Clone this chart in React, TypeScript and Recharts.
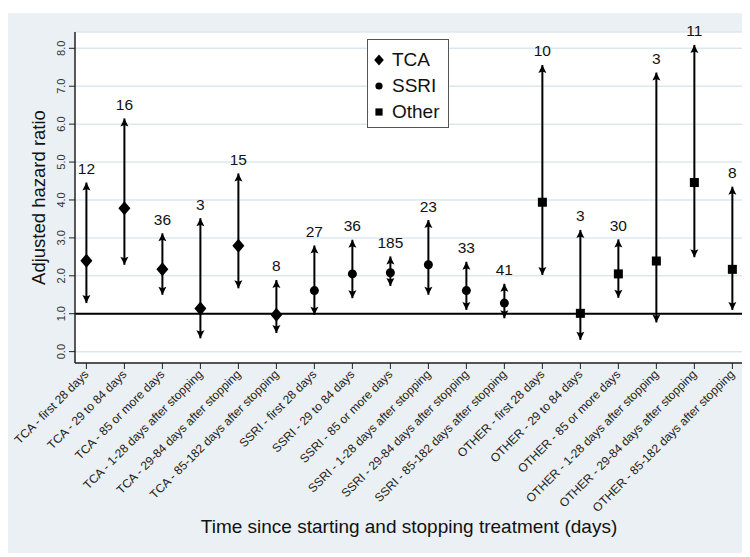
import {
  CartesianGrid,
  ErrorBar,
  LabelList,
  Legend,
  ReferenceLine,
  Scatter,
  ScatterChart,
  XAxis,
  YAxis,
} from "recharts";

const categories = [
  "TCA - first 28 days",
  "TCA - 29 to 84 days",
  "TCA - 85 or more days",
  "TCA - 1-28 days after stopping",
  "TCA - 29-84 days after stopping",
  "TCA - 85-182 days after stopping",
  "SSRI - first 28 days",
  "SSRI - 29 to 84 days",
  "SSRI - 85 or more days",
  "SSRI - 1-28 days after stopping",
  "SSRI - 29-84 days after stopping",
  "SSRI - 85-182 days after stopping",
  "OTHER - first 28 days",
  "OTHER - 29 to 84 days",
  "OTHER - 85 or more days",
  "OTHER - 1-28 days after stopping",
  "OTHER - 29-84 days after stopping",
  "OTHER - 85-182 days after stopping",
];
const drugGroup = [
  "TCA", "TCA", "TCA", "TCA", "TCA", "TCA",
  "SSRI", "SSRI", "SSRI", "SSRI", "SSRI", "SSRI",
  "Other", "Other", "Other", "Other", "Other", "Other",
];
const hazardRatio = [2.4, 3.78, 2.17, 1.14, 2.79, 0.97, 1.61, 2.05, 2.08, 2.29, 1.61, 1.28, 3.94, 1.01, 2.05, 2.39, 4.46, 2.17];
const lowerCI = [1.28, 2.29, 1.5, 0.35, 1.67, 0.49, 0.97, 1.41, 1.73, 1.5, 1.1, 0.88, 2.02, 0.31, 1.42, 0.77, 2.49, 1.1];
const upperCI = [4.46, 6.15, 3.12, 3.52, 4.7, 1.89, 2.8, 2.95, 2.51, 3.47, 2.37, 1.79, 7.56, 3.21, 2.96, 7.36, 8.09, 4.35];
const cases = [12, 16, 36, 3, 15, 8, 27, 36, 185, 23, 33, 41, 10, 3, 30, 3, 11, 8];
const yTicks = [0, 1, 2, 3, 4, 5, 6, 7, 8];
const legendItems = ["TCA", "SSRI", "Other"];

const FONT = "Arial, 'Liberation Sans', sans-serif";

const points = categories.map((c, i) => ({
  x: i,
  y: hazardRatio[i],
  group: drugGroup[i],
  err: [hazardRatio[i] - lowerCI[i], upperCI[i] - hazardRatio[i]],
}));
const tops = categories.map((c, i) => ({ x: i, y: upperCI[i], n: cases[i] }));
const bottoms = categories.map((c, i) => ({ x: i, y: lowerCI[i] }));

const markerPath = (group: string, cx: number, cy: number, s = 1) => {
  if (group === "TCA")
    return <path d={`M${cx},${cy - 7 * s} L${cx + 6 * s},${cy} L${cx},${cy + 7 * s} L${cx - 6 * s},${cy} Z`} fill="#000" />;
  if (group === "SSRI") return <circle cx={cx} cy={cy} r={4.5 * s} fill="#000" />;
  return <rect x={cx - 4.5 * s} y={cy - 4.5 * s} width={9 * s} height={9 * s} fill="#000" />;
};

const Marker = (props: any) => markerPath(props.payload.group, props.cx, props.cy);

const UpArrow = ({ cx, cy }: any) => (
  <path d={`M${cx},${cy} L${cx - 4},${cy + 8} L${cx},${cy + 6.5} L${cx + 4},${cy + 8} Z`} fill="#000" />
);
const DownArrow = ({ cx, cy }: any) => (
  <path d={`M${cx},${cy} L${cx - 4},${cy - 8} L${cx},${cy - 6.5} L${cx + 4},${cy - 8} Z`} fill="#000" />
);

const XTick = ({ x, y, payload }: any) => (
  <text
    transform={`translate(${x},${y + 1}) rotate(-45)`}
    textAnchor="end"
    dy="0.35em"
    fontSize={12}
    fontFamily={FONT}
    fill="#222"
  >
    {categories[payload.value]}
  </text>
);

const YTick = ({ x, y, payload }: any) => (
  <text
    transform={`translate(${x - 2},${y}) rotate(-90)`}
    textAnchor="middle"
    fontSize={11}
    fontFamily={FONT}
    fill="#333"
  >
    {Number(payload.value).toFixed(1)}
  </text>
);

const LegendBox = () => (
  <div
    style={{
      width: 82,
      height: 89,
      boxSizing: "border-box",
      border: "1px solid #555",
      background: "#fff",
      paddingTop: 7,
      fontFamily: FONT,
      fontSize: 19,
      color: "#111",
    }}
  >
    {legendItems.map((g) => (
      <div key={g} style={{ height: 26, display: "flex", alignItems: "center" }}>
        <svg width={24} height={26}>
          {markerPath(g, 11, 13, 0.8)}
        </svg>
        <span>{g}</span>
      </div>
    ))}
  </div>
);

export default function App() {
  return (
    <div style={{ marginTop: 5, width: 742, height: 540, background: "#eaf0f3" }}>
      <ScatterChart width={742} height={540} margin={{ top: 19, right: 7, left: 17, bottom: 0 }}>
        <CartesianGrid vertical={false} fill="#ffffff" fillOpacity={1} stroke="#dde8ee" strokeWidth={1.5} />
        <XAxis
          type="number"
          dataKey="x"
          domain={[-0.3, 17.28]}
          ticks={categories.map((c, i) => i)}
          interval={0}
          height={190}
          tick={<XTick />}
          tickSize={6}
          axisLine={{ stroke: "#222", strokeWidth: 1.5 }}
          tickLine={{ stroke: "#222" }}
          label={{
            value: "Time since starting and stopping treatment (days)",
            position: "insideBottom",
            offset: 20,
            style: { fontSize: 19, fill: "#111", fontFamily: FONT },
          }}
        />
        <YAxis
          type="number"
          dataKey="y"
          domain={[-0.3, 8.43]}
          ticks={yTicks}
          interval={0}
          width={50}
          tick={<YTick />}
          tickSize={6}
          axisLine={{ stroke: "#222", strokeWidth: 1.5 }}
          tickLine={{ stroke: "#222" }}
          label={{
            value: "Adjusted hazard ratio",
            angle: -90,
            position: "insideLeft",
            offset: 13,
            style: { textAnchor: "middle", fontSize: 18.5, fill: "#111", fontFamily: FONT },
          }}
        />
        <ReferenceLine y={1} stroke="#000" strokeWidth={2} />
        <Scatter data={points} shape={Marker} isAnimationActive={false}>
          <ErrorBar dataKey="err" direction="y" width={0} stroke="#000" strokeWidth={2} isAnimationActive={false} />
        </Scatter>
        <Scatter data={tops} shape={UpArrow} isAnimationActive={false}>
          <LabelList dataKey="n" position="top" offset={4} fontSize={15.5} fontFamily={FONT} fill="#111" />
        </Scatter>
        <Scatter data={bottoms} shape={DownArrow} isAnimationActive={false} />
        <Legend
          layout="vertical"
          align="center"
          verticalAlign="middle"
          content={<LegendBox />}
          wrapperStyle={{ position: "absolute", left: 359, top: 26, width: 82 }}
        />
      </ScatterChart>
    </div>
  );
}
